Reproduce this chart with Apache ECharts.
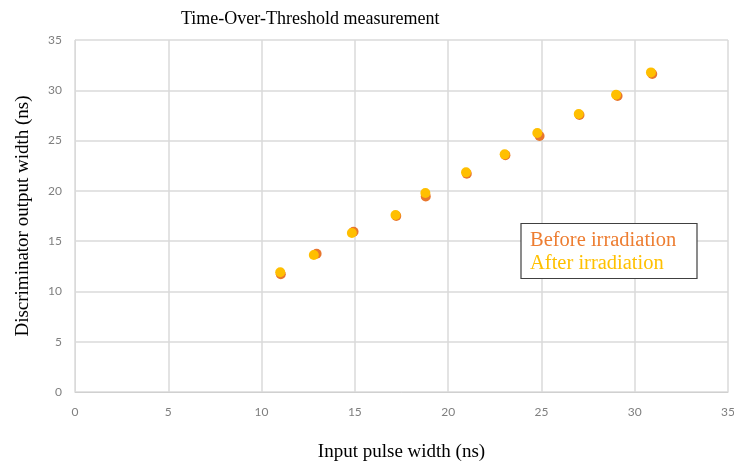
<!DOCTYPE html>
<html>
<head>
<meta charset="utf-8">
<script src="https://cdn.jsdelivr.net/npm/echarts@6/dist/echarts.min.js"></script>
<style>
  html, body { margin: 0; padding: 0; background: #fff; }
  #chart { width: 734px; height: 461px; }
</style>
</head>
<body>
<div id="chart"></div>
<script>
// input pulse width (ns) / discriminator output width (ns)
var beforeX = [11.03, 12.95, 14.93, 17.22, 18.8, 21.0, 23.07, 24.9, 27.04, 29.08, 30.94]
var beforeY = [11.7, 13.75, 15.94, 17.5, 19.45, 21.7, 23.55, 25.45, 27.55, 29.43, 31.62]
var afterX = [11.0, 12.8, 14.84, 17.18, 18.78, 20.96, 23.03, 24.78, 27.0, 29.0, 30.87]
var afterY = [11.9, 13.62, 15.81, 17.6, 19.79, 21.84, 23.63, 25.75, 27.64, 29.56, 31.78]
var axisTicks = [0, 5, 10, 15, 20, 25, 30, 35]

var serif = '"Liberation Serif", "Times New Roman", serif'
var sans = 'Lato, "Open Sans", sans-serif'

function pairs(xs, ys) {
  return xs.map(function (x, i) { return [x, ys[i]] })
}

var chart = echarts.init(document.getElementById('chart'))
chart.setOption({
  animation: false,
  title: {
    text: 'Time-Over-Threshold measurement',
    left: 176,
    top: 5,
    textStyle: { fontFamily: serif, fontSize: 18, fontWeight: 'normal', color: '#000' }
  },
  grid: {
    left: 75,
    right: 6,
    top: 40,
    bottom: 69,
    outerBoundsMode: 'none',
    containLabel: false
  },
  xAxis: {
    type: 'value',
    min: axisTicks[0],
    max: axisTicks[axisTicks.length - 1],
    interval: 5,
    name: 'Input pulse width (ns)',
    nameLocation: 'middle',
    nameGap: 51,
    nameTextStyle: { fontFamily: serif, fontSize: 19, color: '#000' },
    axisLine: { lineStyle: { color: '#d0d0d0' } },
    axisTick: { show: false },
    axisLabel: { fontFamily: sans, fontSize: 12, color: '#7f7f7f', margin: 14 },
    splitLine: { lineStyle: { color: '#dadada', width: 1.5 } }
  },
  yAxis: {
    type: 'value',
    min: axisTicks[0],
    max: axisTicks[axisTicks.length - 1],
    interval: 5,
    name: 'Discriminator output width (ns)',
    nameLocation: 'middle',
    nameGap: 42,
    nameTextStyle: { fontFamily: serif, fontSize: 19, color: '#000' },
    axisLine: { show: true, lineStyle: { color: '#dadada' } },
    axisTick: { show: false },
    axisLabel: { fontFamily: sans, fontSize: 12, color: '#7f7f7f', margin: 13 },
    splitLine: { lineStyle: { color: '#dadada', width: 1.5 } }
  },
  series: [
    {
      name: 'Before irradiation',
      type: 'scatter',
      symbolSize: 10,
      itemStyle: { color: '#e8762d', opacity: 1 },
      data: pairs(beforeX, beforeY)
    },
    {
      name: 'After irradiation',
      type: 'scatter',
      symbolSize: 10,
      itemStyle: { color: '#ffbf00', opacity: 1 },
      data: pairs(afterX, afterY)
    }
  ],
  graphic: [
    {
      type: 'rect',
      z: 100,
      shape: { x: 521, y: 223.5, width: 176, height: 55 },
      style: { fill: '#fff', stroke: '#404040', lineWidth: 1.2 }
    },
    {
      type: 'text',
      z: 101,
      left: 530,
      top: 230,
      style: { text: 'Before irradiation', fill: '#ed7d31', font: '20.5px ' + serif }
    },
    {
      type: 'text',
      z: 101,
      left: 530,
      top: 253,
      style: { text: 'After irradiation', fill: '#ffc000', font: '20.5px ' + serif }
    }
  ]
})
</script>
</body>
</html>
